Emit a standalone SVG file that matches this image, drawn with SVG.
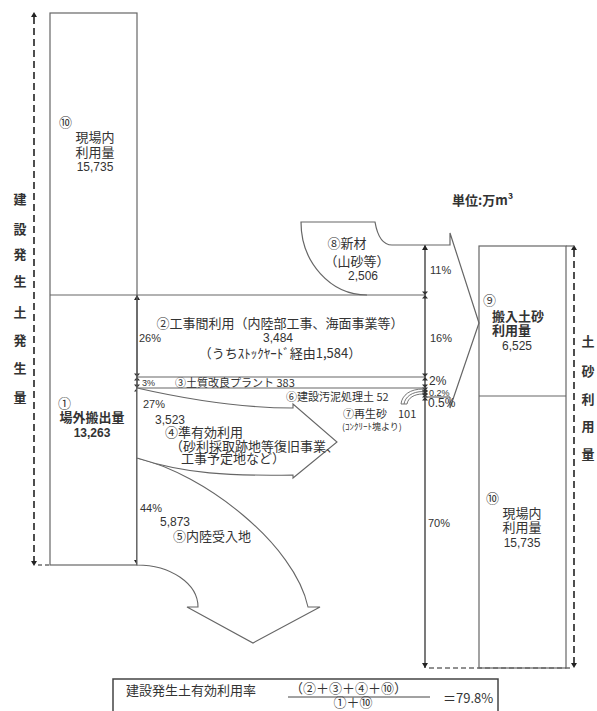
<svg xmlns="http://www.w3.org/2000/svg" xmlns:xlink="http://www.w3.org/1999/xlink" width="597" height="711" viewBox="0 0 597 711">
<style>
.ln{fill:none;stroke:#666;stroke-width:1.2}
.sh{fill:#fff;stroke:#666;stroke-width:1.1}
.dim{fill:none;stroke:#333;stroke-width:1.3}
.dash{fill:none;stroke:#222;stroke-width:1.6;stroke-dasharray:7,4}
.t{font-family:"Liberation Sans","Noto Sans CJK JP",sans-serif;fill:#333;font-size:12px}
.j{font-family:"Noto Sans CJK JP","Liberation Sans",sans-serif;fill:#333;font-size:13px}
.b{font-weight:bold}
.m{text-anchor:middle}
.s{font-size:11px}
.xs{font-size:9px}
.v{font-family:"Noto Sans CJK JP",sans-serif;fill:#333;font-size:13px;font-weight:bold;text-anchor:middle}
</style>
<defs>
<path id="tk" d="M-3,-3.5 L3,-3.5 L0,0 Z M-3,3.5 L3,3.5 L0,0 Z" fill="#333"/>
<path id="up" d="M-3,5 L3,5 L0,0 Z" fill="#222"/>
<path id="dn" d="M-3,-5 L3,-5 L0,0 Z" fill="#222"/>
</defs>
<rect width="597" height="711" fill="#fff"/>

<g id="connectors">
<line class="dash" x1="34" y1="17" x2="34" y2="561"/>
<use xlink:href="#up" x="34" y="12"/>
<use xlink:href="#dn" x="34" y="566"/>
<line class="dash" x1="38" y1="565" x2="50" y2="565" style="stroke-dasharray:4,3;stroke-width:1"/>
<line class="dash" x1="574" y1="250" x2="574" y2="663"/>
<use xlink:href="#up" x="574" y="245"/>
<use xlink:href="#dn" x="574" y="668"/>
<line class="dash" x1="429" y1="668" x2="570" y2="668" style="stroke-dasharray:5,3;stroke-width:1"/>
<line class="ln" x1="566" y1="246" x2="574" y2="246"/>
<line class="dim" x1="137" y1="295" x2="137" y2="565"/>
<use xlink:href="#up" x="137" y="295"/>
<use xlink:href="#tk" x="137" y="377"/>
<use xlink:href="#tk" x="137" y="388"/>
<use xlink:href="#dn" x="137" y="565"/>
<line class="dim" x1="425" y1="245" x2="425" y2="668"/>
<use xlink:href="#up" x="425" y="245"/>
<use xlink:href="#tk" x="425" y="295"/>
<use xlink:href="#tk" x="425" y="377"/>
<use xlink:href="#tk" x="425" y="388"/>
<use xlink:href="#tk" x="425" y="391"/>
<use xlink:href="#tk" x="425" y="394"/>
<use xlink:href="#tk" x="425" y="397"/>
<use xlink:href="#dn" x="425" y="668"/>
<line class="ln" x1="50" y1="295" x2="425" y2="295"/>
<line class="ln" x1="137" y1="377" x2="425" y2="377"/>
<line class="ln" x1="137" y1="388" x2="425" y2="388"/>
<line class="ln" x1="425" y1="397" x2="450" y2="397"/>
</g>

<g id="left-column">
<rect class="ln" x="50" y="13" width="87" height="552"/>
</g>

<g id="n10-left">
<text class="j" x="59" y="127" font-size="12">⑩</text>
<text class="j m" x="95" y="142">現場内</text>
<text class="j m" x="95" y="157">利用量</text>
<text class="t m" x="95" y="171">15,735</text>
</g>

<g id="n1">
<text class="j" x="58" y="408">①</text>
<text class="j m b" x="92" y="422" font-size="14">場外搬出量</text>
<text class="t m b" x="92" y="437" font-size="13">13,263</text>
</g>

<g id="label-left">
<text class="v" x="20" y="204">建</text>
<text class="v" x="20" y="234">設</text>
<text class="v" x="20" y="259">発</text>
<text class="v" x="20" y="286">生</text>
<text class="v" x="20" y="317">土</text>
<text class="v" x="20" y="345">発</text>
<text class="v" x="20" y="373">生</text>
<text class="v" x="20" y="402">量</text>
</g>

<g id="n8">
<path class="ln" d="M367,295 A66,73 0 0 1 301,222 L375,222 Q379,245 392,245 L450,245 L450,233 L479,323 L450,408 L450,397"/>
<text class="j m" x="347" y="248">⑧新材</text>
<text class="j m" x="357" y="266" font-size="12">（山砂等）</text>
<text class="t m" x="363" y="280">2,506</text>
</g>

<g id="unit">
<text class="j b" x="452" y="205" font-size="12">単位:万m³</text>
</g>

<g id="pct-right">
<text class="t s" x="430" y="274">11%</text>
<text class="t s" x="430" y="342">16%</text>
<text class="t" x="429" y="385" font-size="10">2%</text>
<text class="t xs" x="429" y="396">0.2%</text>
<text class="t" x="428" y="407" font-size="10">0.5%</text>
<text class="t s" x="428" y="527">70%</text>
</g>

<g id="n2">
<text class="j m" x="280" y="328">②工事間利用（内陸部工事、海面事業等）</text>
<text class="t m" x="278" y="342">3,484</text>
<text class="j m" x="280" y="358" font-size="12">（うちｽﾄｯｸﾔｰﾄﾞ経由1,584）</text>
<text class="t s" x="139" y="342">26%</text>
</g>

<g id="n3">
<text class="t xs" x="142" y="386">3%</text>
<text class="j s" x="175" y="387">③土質改良プラント 383</text>
</g>

<g id="n6">
<text class="j s" x="286" y="401">⑥建設汚泥処理土 52</text>
</g>

<g id="n7">
<path class="ln" d="M423,389 C410,389 402,395 401,404 L407,404 C408,398 414,394 423,394 Z M423,391.5 C412,391.5 405,397 404,404" style="stroke-width:0.9"/>
<text class="j s" x="343" y="418">⑦再生砂　101</text>
<text class="j xs" x="342" y="430">(ｺﾝｸﾘｰﾄ塊より)</text>
</g>

<g id="n5">
<path class="sh" d="M137,458 C205,474 295,545 308,607 L320,607 L253,643 L187,607 L198,607 A61,42 0 0 0 137,565 Z"/>
<text class="t s" x="140" y="512">44%</text>
<text class="t" x="160" y="526">5,873</text>
<text class="j" x="173" y="541">⑤内陸受入地</text>
</g>

<g id="n4">
<path class="sh" d="M137,388 C190,400 240,408 293,408 L293,404 L337,442 L293,478 L293,475 C230,476 185,474 137,458 Z"/>
<text class="t s" x="143" y="408">27%</text>
<text class="t" x="155" y="424">3,523</text>
<text class="j" x="165" y="437">④準有効利用</text>
<text class="j" x="170" y="451" font-size="10">（砂利採取跡地等復旧事業、</text>
<text class="j" x="181" y="463" font-size="10">工事予定地など）</text>
</g>

<g id="right-column">
<rect class="ln" x="479" y="246" width="87" height="422"/>
<line class="ln" x1="479" y1="396" x2="566" y2="396"/>
</g>

<g id="n9">
<text class="j" x="483" y="305" font-size="12">⑨</text>
<text class="j b" x="492" y="321">搬入土砂</text>
<text class="j b" x="492" y="335">利用量</text>
<text class="t m" x="517" y="350">6,525</text>
</g>

<g id="n10-right">
<text class="j" x="486" y="503" font-size="12">⑩</text>
<text class="j m" x="522" y="518">現場内</text>
<text class="j m" x="522" y="532">利用量</text>
<text class="t m" x="522" y="547">15,735</text>
</g>

<g id="label-right">
<text class="v" x="588" y="346">土</text>
<text class="v" x="588" y="376">砂</text>
<text class="v" x="588" y="404">利</text>
<text class="v" x="588" y="431">用</text>
<text class="v" x="588" y="459">量</text>
</g>

<g id="formula">
<rect x="113" y="679" width="385" height="45" fill="#fff" stroke="#444" stroke-width="1.5"/>
<text class="j" x="126" y="695" font-size="14">建設発生土有効利用率</text>
<text class="j" x="290" y="693" font-size="12.5">（②＋③＋④＋⑩）</text>
<line x1="288" y1="697" x2="430" y2="697" stroke="#444" stroke-width="1"/>
<text class="j m" x="353" y="707" font-size="11">①＋⑩</text>
<text class="j" x="443" y="703" font-size="12">＝79.8%</text>
</g>
</svg>
